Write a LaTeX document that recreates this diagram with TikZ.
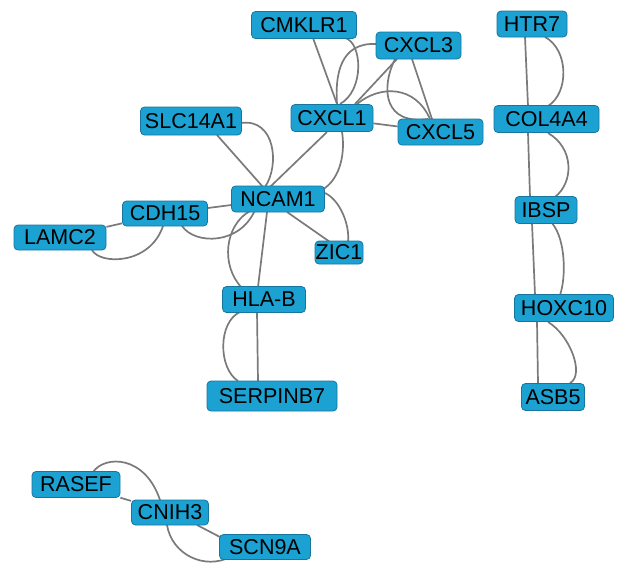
\documentclass[tikz,border=0pt]{standalone}
\usepackage{fontspec}
\setmainfont{Liberation Sans}
\usetikzlibrary{calc,backgrounds}
\definecolor{nodefill}{RGB}{27,162,210}
\definecolor{nodeline}{RGB}{22,118,158}
\definecolor{edgegray}{RGB}{122,122,122}
\begin{document}
\begin{tikzpicture}[x=1pt,y=-1pt,
  gene/.style={draw=nodeline, line width=0.8pt, fill=nodefill, rounded corners=4pt,
    inner sep=0pt, font=\fontsize{21.5}{24}\selectfont, text=black},
  edge/.style={draw=edgegray, line width=1.7pt}]
\useasboundingbox (0,0) rectangle (620,565);
% cluster 1
\node[gene, minimum width=105pt, minimum height=27pt] (CMKLR1) at (304,25) {CMKLR1};
\node[gene, minimum width=85pt, minimum height=27pt] (CXCL3) at (418.5,45.5) {CXCL3};
\node[gene, minimum width=82pt, minimum height=27pt] (CXCL1) at (332,118) {CXCL1};
\node[gene, minimum width=85pt, minimum height=26pt] (CXCL5) at (440.5,132) {CXCL5};
\node[gene, minimum width=101pt, minimum height=28pt] (SLC14A1) at (191,121) {SLC14A1};
\node[gene, minimum width=93pt, minimum height=26pt] (NCAM1) at (278,199) {NCAM1};
\node[gene, minimum width=85pt, minimum height=25pt] (CDH15) at (165,213.5) {CDH15};
\node[gene, minimum width=92pt, minimum height=25pt] (LAMC2) at (60,237.5) {LAMC2};
\node[gene, minimum width=48pt, minimum height=23pt] (ZIC1) at (339,252.5) {ZIC1};
\node[gene, minimum width=83pt, minimum height=26pt] (HLAB) at (264,299.5) {HLA-B};
\node[gene, minimum width=130pt, minimum height=30pt] (SERPINB7) at (272,396) {SERPINB7};
% cluster 2
\node[gene, minimum width=70pt, minimum height=26pt] (HTR7) at (532,24) {HTR7};
\node[gene, minimum width=105pt, minimum height=27pt] (COL4A4) at (546.5,119) {COL4A4};
\node[gene, minimum width=62pt, minimum height=27pt] (IBSP) at (546,210) {IBSP};
\node[gene, minimum width=99pt, minimum height=27pt] (HOXC10) at (564,308) {HOXC10};
\node[gene, minimum width=63pt, minimum height=27pt] (ASB5) at (553,397) {ASB5};
% cluster 3
\node[gene, minimum width=88pt, minimum height=26pt] (RASEF) at (76,484.5) {RASEF};
\node[gene, minimum width=77pt, minimum height=25pt] (CNIH3) at (170,512.5) {CNIH3};
\node[gene, minimum width=91pt, minimum height=25pt] (SCN9A) at (265,547) {SCN9A};

\begin{scope}[on background layer]
% cluster 1
\draw[edge] ($(CMKLR1)+(9,13)$) -- ($(CXCL1)+(5,-14)$);
\draw[edge] ($(CMKLR1)+(41,13)$) .. controls (362,42) and (365,90) .. ($(CXCL1)+(8,-14)$);
\draw[edge] ($(CXCL3)+(-42,-1.5)$) .. controls (340,42) and (335,75) .. ($(CXCL1)+(5,-14)$);
\draw[edge] ($(CXCL3)+(-21.5,13.5)$) -- ($(CXCL1)+(23,-14)$);
\draw[edge] ($(CXCL3)+(-6.5,13.5)$) -- ($(CXCL5)+(-8.5,-13)$);
\draw[edge] ($(CXCL3)+(-23.5,13.5)$) .. controls (380,90) and (385,125) .. ($(CXCL5)+(-12.5,-13)$);
\draw[edge] ($(CXCL1)+(25,-14)$) .. controls (380,85) and (415,85) .. ($(CXCL5)+(-10.5,-13)$);
\draw[edge] (CXCL1) -- (CXCL5);
\draw[edge] ($(SLC14A1)+(26,14)$) -- ($(NCAM1)+(-15,-12)$);
\draw[edge] ($(SLC14A1)+(50,2)$) .. controls (275,118) and (280,165) .. ($(NCAM1)+(-13,-12)$);
\draw[edge] ($(CXCL1)+(-5,14)$) -- ($(NCAM1)+(-8,-12)$);
\draw[edge] ($(CXCL1)+(10,14)$) .. controls (345,150) and (342,178) .. ($(NCAM1)+(44,-9)$);
\draw[edge] (NCAM1) -- (CDH15);
\draw[edge] ($(CDH15)+(17,12.5)$) .. controls (195,245) and (240,245) .. ($(NCAM1)+(-23,11)$);
\draw[edge] ($(NCAM1)+(-11,13)$) -- ($(HLAB)+(-6,-12.5)$);
\draw[edge] ($(NCAM1)+(-28,12)$) .. controls (225,225) and (220,265) .. ($(HLAB)+(-22,-11.5)$);
\draw[edge] ($(NCAM1)+(9,13)$) -- ($(ZIC1)+(-9,-10.5)$);
\draw[edge] ($(NCAM1)+(47,-6)$) .. controls (340,200) and (350,225) .. ($(ZIC1)+(9,-10.5)$);
\draw[edge] (CDH15) -- (LAMC2);
\draw[edge] ($(LAMC2)+(32,12.5)$) .. controls (100,265) and (150,265) .. ($(CDH15)+(-2,12.5)$);
\draw[edge] ($(HLAB)+(-7,12.5)$) -- ($(SERPINB7)+(-14,-15)$);
\draw[edge] ($(HLAB)+(-24,12.5)$) .. controls (218,322) and (218,368) .. ($(SERPINB7)+(-34,-15)$);
% cluster 2
\draw[edge] ($(HTR7)+(-7,13)$) -- ($(COL4A4)+(-18.5,-13)$);
\draw[edge] ($(HTR7)+(13,13)$) .. controls (569,50) and (569,93) .. ($(COL4A4)+(1.5,-13)$);
\draw[edge] ($(COL4A4)+(-18.5,14)$) -- ($(IBSP)+(-16,-13)$);
\draw[edge] ($(COL4A4)+(1.5,14)$) .. controls (574,148) and (574,182) .. ($(IBSP)+(9,-13)$);
\draw[edge] ($(IBSP)+(-14,13)$) -- ($(HOXC10)+(-29,-13)$);
\draw[edge] ($(IBSP)+(6,13)$) .. controls (566,240) and (566,278) .. ($(HOXC10)+(-4,-13)$);
\draw[edge] ($(HOXC10)+(-27,14)$) -- ($(ASB5)+(-15,-14)$);
\draw[edge] ($(HOXC10)+(-16,14)$) .. controls (570,335) and (585,375) .. ($(ASB5)+(17,-14)$);
% cluster 3
\draw[edge] (RASEF) -- (CNIH3);
\draw[edge] ($(RASEF)+(17,-12.5)$) .. controls (105,455) and (145,455) .. ($(CNIH3)+(-10,-12.5)$);
\draw[edge] ($(CNIH3)+(27,12.5)$) -- ($(SCN9A)+(-45,-10)$);
\draw[edge] ($(CNIH3)+(-3,12.5)$) .. controls (172,555) and (205,570) .. ($(SCN9A)+(-35,10)$);
\end{scope}
\end{tikzpicture}
\end{document}
